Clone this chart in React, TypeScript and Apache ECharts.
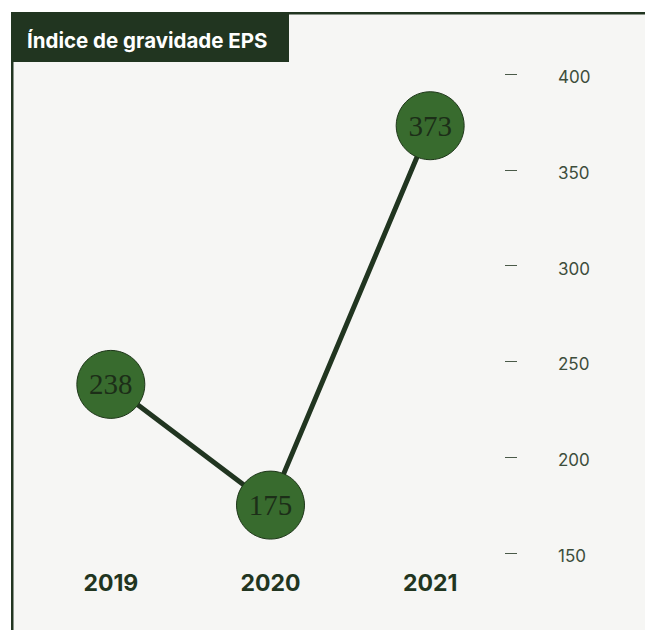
import React, { useEffect, useRef } from "react";
import * as echarts from "echarts";

const years = ["2019", "2020", "2021"];
const values = [238, 175, 373];
const yTicks = [150, 200, 250, 300, 350, 400];
const title = "Índice de gravidade EPS";

const DARK = "#213520";
const FILL = "#386b2e";

export default function App() {
  const ref = useRef<HTMLDivElement>(null);
  useEffect(() => {
    if (!ref.current) return;
    const chart = echarts.init(ref.current, null, { renderer: "svg" });
    chart.setOption({
      animation: false,
      backgroundColor: "#ffffff",
      grid: { left: 31, top: 74, width: 479, bottom: 77, containLabel: false },
      xAxis: {
        type: "category",
        data: years,
        axisLine: { show: false },
        axisTick: { show: false },
        splitLine: { show: false },
        axisLabel: {
          margin: 18,
          fontFamily: "Inter",
          fontWeight: "bold",
          fontSize: 23,
          color: DARK,
        },
      },
      yAxis: {
        type: "value",
        position: "right",
        offset: -5,
        min: yTicks[0],
        max: yTicks[yTicks.length - 1],
        interval: 50,
        axisLine: { show: false },
        splitLine: { show: false },
        axisTick: { show: true, length: 12, lineStyle: { color: "#4a5a48", width: 1 } },
        axisLabel: {
          margin: 53,
          formatter: "{a|{value}}",
          rich: {
            a: {
              fontFamily: "Inter",
              fontSize: 17,
              color: "#3d4d3b",
              padding: [6, 0, 0, 0],
            },
          },
        },
      },
      graphic: [
        { type: "rect", z: -100, silent: true, shape: { x: 13, y: 14, width: 632, height: 616 }, style: { fill: "#f6f6f4" } },
        { type: "rect", z: 100, silent: true, shape: { x: 11, y: 12, width: 634, height: 2.5 }, style: { fill: DARK } },
        { type: "rect", z: 100, silent: true, shape: { x: 11, y: 12, width: 2.5, height: 618 }, style: { fill: DARK } },
        { type: "rect", z: 100, silent: true, shape: { x: 11, y: 12, width: 278, height: 50 }, style: { fill: DARK } },
        {
          type: "text",
          z: 101,
          silent: true,
          x: 27,
          y: 40,
          style: {
            text: title,
            fill: "#ffffff",
            font: "bold 20.5px Inter",
            verticalAlign: "middle",
            align: "left",
          },
        },
      ],
      series: [
        {
          type: "line",
          data: values,
          symbol: "circle",
          symbolSize: 68,
          lineStyle: { color: DARK, width: 5 },
          itemStyle: { color: FILL, borderColor: "#1e3619", borderWidth: 1 },
          label: {
            show: true,
            position: "inside",
            fontFamily: "Liberation Serif",
            fontSize: 29,
            color: "#1c2e18",
          },
          emphasis: { disabled: true },
        },
      ],
    });
    return () => chart.dispose();
  }, []);
  return (
    <div
      ref={ref}
      style={{ position: "fixed", left: 0, top: 0, width: 645, height: 630 }}
    />
  );
}
